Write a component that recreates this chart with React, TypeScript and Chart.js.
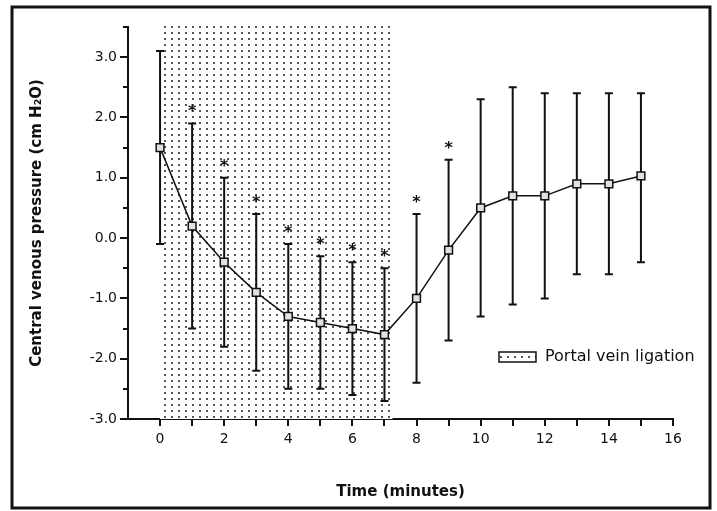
import React, { useEffect, useRef } from "react";
import { Chart, registerables } from "chart.js";

Chart.register(...registerables);

const minutes = [0, 1, 2, 3, 4, 5, 6, 7, 8, 9, 10, 11, 12, 13, 14, 15];
const meanCVP = [1.5, 0.2, -0.4, -0.9, -1.3, -1.4, -1.5, -1.6, -1.0, -0.2, 0.5, 0.7, 0.7, 0.9, 0.9, 1.03];
const upperCVP = [3.1, 1.9, 1.0, 0.4, -0.1, -0.3, -0.4, -0.5, 0.4, 1.3, 2.3, 2.5, 2.4, 2.4, 2.4, 2.4];
const lowerCVP = [-0.1, -1.5, -1.8, -2.2, -2.5, -2.5, -2.6, -2.7, -2.4, -1.7, -1.3, -1.1, -1.0, -0.6, -0.6, -0.4];
const significant = [false, true, true, true, true, true, true, true, true, true, false, false, false, false, false, false];
const ligationStart = 0;
const ligationEnd = 7.25;
const ligationTop = 3.55;
const legendLabel = "Portal vein ligation";
const xTitle = "Time (minutes)";
const yTitle = "Central venous pressure (cm H\u2082O)";

const FONT = "'DejaVu Sans', Verdana, sans-serif";

function makePattern(): CanvasPattern | string {
  const c = document.createElement("canvas");
  c.width = 7;
  c.height = 6;
  const g = c.getContext("2d");
  if (!g) return "#ddd";
  g.fillStyle = "#fff";
  g.fillRect(0, 0, 7, 6);
  g.fillStyle = "#555";
  g.fillRect(3, 2, 2, 2);
  const p = g.createPattern(c, "repeat");
  return p || "#ddd";
}

const isMajor = (v: number) => Math.abs(v % 1) < 1e-9;

export default function App() {
  const ref = useRef<HTMLCanvasElement>(null);

  useEffect(() => {
    if (!ref.current) return;
    const pattern = makePattern();

    const decorPlugin = {
      id: "decor",
      beforeDatasetsDraw(chart: any) {
        const { ctx, scales } = chart;
        const x = scales.x;
        const y = scales.y;
        // shaded ligation period
        const x0 = x.getPixelForValue(ligationStart);
        const x1 = x.getPixelForValue(ligationEnd);
        const yT = y.getPixelForValue(ligationTop);
        const yB = y.getPixelForValue(y.min);
        ctx.save();
        ctx.fillStyle = pattern;
        ctx.fillRect(x0, yT, x1 - x0, yB - yT);
        ctx.restore();
        // minor y ticks (shorter)
        ctx.save();
        ctx.strokeStyle = "#111";
        ctx.lineWidth = 2;
        y.ticks.forEach((t: any) => {
          if (isMajor(t.value)) return;
          const py = Math.round(y.getPixelForValue(t.value));
          ctx.beginPath();
          ctx.moveTo(x.left - 5, py);
          ctx.lineTo(x.left, py);
          ctx.stroke();
        });
        ctx.restore();
        // error bars
        ctx.save();
        ctx.strokeStyle = "#111";
        ctx.lineWidth = 2;
        minutes.forEach((m, i) => {
          const px = x.getPixelForValue(m);
          const pu = y.getPixelForValue(upperCVP[i]);
          const pl = y.getPixelForValue(lowerCVP[i]);
          ctx.beginPath();
          ctx.moveTo(px, pu);
          ctx.lineTo(px, pl);
          ctx.moveTo(px - 4, pu);
          ctx.lineTo(px + 4, pu);
          ctx.moveTo(px - 4, pl);
          ctx.lineTo(px + 4, pl);
          ctx.stroke();
        });
        ctx.restore();
      },
      afterDatasetsDraw(chart: any) {
        const { ctx, scales, chartArea } = chart;
        const x = scales.x;
        const y = scales.y;
        ctx.save();
        ctx.fillStyle = "#111";
        ctx.font = `bold 16px ${FONT}`;
        ctx.textAlign = "center";
        ctx.textBaseline = "alphabetic";
        minutes.forEach((m, i) => {
          if (!significant[i]) return;
          const px = x.getPixelForValue(m);
          const pu = y.getPixelForValue(upperCVP[i]);
          ctx.fillText("*", px, pu - 7);
        });
        ctx.restore();
        // legend
        ctx.save();
        const lx = chartArea.left + 371;
        const ly = chartArea.top + 325;
        ctx.fillStyle = pattern;
        ctx.fillRect(lx, ly, 37, 10);
        ctx.strokeStyle = "#111";
        ctx.lineWidth = 1.5;
        ctx.strokeRect(lx, ly, 37, 10);
        ctx.fillStyle = "#111";
        ctx.font = `16px ${FONT}`;
        ctx.textAlign = "left";
        ctx.textBaseline = "middle";
        ctx.fillText(legendLabel, lx + 46, ly + 5);
        ctx.restore();
      },
      afterDraw(chart: any) {
        const { ctx } = chart;
        ctx.save();
        ctx.strokeStyle = "#111";
        ctx.lineWidth = 3;
        ctx.strokeRect(12, 7, 698, 501);
        ctx.restore();
      },
    };

    const chart = new Chart(ref.current, {
      type: "line",
      data: {
        datasets: [
          {
            data: minutes.map((m, i) => ({ x: m, y: meanCVP[i] })),
            borderColor: "#111",
            borderWidth: 1.5,
            tension: 0,
            pointStyle: "rect",
            pointRadius: 5.5,
            pointBackgroundColor: "#e2e2e2",
            pointBorderColor: "#111",
            pointBorderWidth: 1.5,
          },
        ],
      },
      options: {
        animation: false,
        responsive: false,
        events: [],
        layout: { padding: { left: 0, top: 27, right: 44, bottom: 0 } },
        plugins: { legend: { display: false }, tooltip: { enabled: false } },
        scales: {
          x: {
            type: "linear",
            min: -1,
            max: 16,
            afterFit: (s: any) => {
              s.height = 92;
            },
            border: { display: true, color: "#111", width: 2 },
            grid: {
              drawOnChartArea: false,
              drawTicks: true,
              tickLength: 7,
              lineWidth: 2,
              tickColor: (c: any) => (c.tick && c.tick.value === -1 ? "rgba(0,0,0,0)" : "#111"),
            },
            ticks: {
              stepSize: 1,
              autoSkip: false,
              maxRotation: 0,
              padding: 5,
              color: "#111",
              font: { family: FONT, size: 14 },
              callback: (v: any) => (v >= 0 && v % 2 === 0 ? String(v) : ""),
            },
            title: {
              display: true,
              text: xTitle,
              color: "#111",
              font: { family: FONT, size: 15, weight: "bold" },
              padding: { top: 0, bottom: 10 },
            },
          },
          y: {
            type: "linear",
            min: -3,
            max: 3.5,
            afterFit: (s: any) => {
              s.width = 128;
            },
            border: { display: true, color: "#111", width: 2 },
            grid: {
              drawOnChartArea: false,
              drawTicks: true,
              tickLength: 8,
              lineWidth: 2,
              tickColor: (c: any) => (c.tick && !isMajor(c.tick.value) ? "rgba(0,0,0,0)" : "#111"),
            },
            ticks: {
              stepSize: 0.5,
              autoSkip: false,
              padding: 3,
              color: "#111",
              font: { family: FONT, size: 14 },
              callback: (v: any) => (isMajor(Number(v)) ? Number(v).toFixed(1) : ""),
            },
            title: {
              display: true,
              text: yTitle,
              color: "#111",
              font: { family: FONT, size: 15, weight: "bold" },
              padding: { top: 28, bottom: 0 },
            },
          },
        },
      },
      plugins: [decorPlugin],
    } as any);

    return () => chart.destroy();
  }, []);

  return (
    <div style={{ position: "absolute", left: 0, top: 0, width: 717, height: 511, background: "#fff" }}>
      <canvas ref={ref} width={717} height={511} style={{ display: "block" }} />
    </div>
  );
}
